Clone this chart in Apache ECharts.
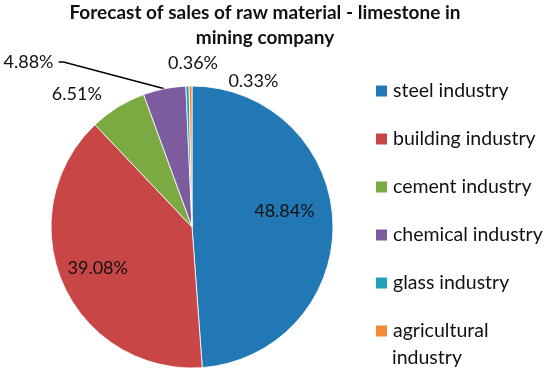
<!DOCTYPE html>
<html>
<head>
<meta charset="utf-8">
<script src="https://cdn.jsdelivr.net/npm/echarts@6/dist/echarts.min.js"></script>
<style>
html,body{margin:0;padding:0;background:#fff;}
#chart{width:550px;height:373px;}
</style>
</head>
<body>
<div id="chart"></div>
<script>
const titleLines = ['Forecast of sales of raw material - limestone in', 'mining company'];
const categories = ['steel industry', 'building industry', 'cement industry', 'chemical industry', 'glass industry', 'agricultural industry'];
const shares = [48.84, 39.08, 6.51, 4.88, 0.36, 0.33];
const colors = ['#2278B5', '#C84646', '#7BAA43', '#7C5B9E', '#22A0B8', '#F58A34'];
const insideLabels = [true, true, false, false, false, false];
const leaderLines = [false, false, false, true, false, false];
// legend label wrapping: first line shown beside the marker, continuation below
const legendFirstLine = {'agricultural industry': 'agricultural'};
const legendContinuation = 'industry';
// label nudges (layout only)
const labelShift = [[19, -13], [-27, 11], [12, 0], [-88, -12], [51, -8], [108, 10]];

const chart = echarts.init(document.getElementById('chart'), null, {renderer: 'canvas'});
const FONT = 'Lato, "Open Sans", sans-serif';
const LEG_FONT = 19.5;

const data = categories.map((name, i) => ({
  name: name,
  value: shares[i],
  itemStyle: {color: colors[i]},
  label: {position: insideLabels[i] ? 'inside' : 'outside'},
  labelLine: {show: leaderLines[i]}
}));

chart.setOption({
  animation: false,
  backgroundColor: '#fff',
  title: {
    text: titleLines.join('\n'),
    left: 265,
    top: 0,
    padding: 0,
    textAlign: 'center',
    textStyle: {fontFamily: FONT, fontWeight: 'bold', fontSize: 19, lineHeight: 25, color: '#111'}
  },
  legend: {
    orient: 'vertical',
    left: 369,
    top: 73,
    itemWidth: 13,
    itemHeight: 13,
    itemGap: 22,
    icon: 'rect',
    data: categories,
    formatter: n => legendFirstLine[n] || n,
    textStyle: {fontFamily: FONT, fontSize: LEG_FONT, lineHeight: 26, color: '#111'}
  },
  graphic: [{
    type: 'text',
    x: 392,
    y: 358,
    silent: true,
    style: {
      text: legendContinuation,
      font: LEG_FONT + 'px ' + FONT,
      fill: '#111',
      verticalAlign: 'middle',
      align: 'left'
    }
  }],
  series: [{
    type: 'pie',
    center: [192, 227],
    radius: 141,
    startAngle: 90,
    clockwise: true,
    avoidLabelOverlap: false,
    itemStyle: {borderColor: '#fff', borderWidth: 0.8},
    label: {
      fontFamily: FONT,
      fontSize: 18,
      color: '#111',
      formatter: p => p.value.toFixed(2) + '%'
    },
    labelLine: {length: 15, length2: 15, lineStyle: {color: '#000', width: 1.5}},
    emphasis: {disabled: true},
    labelLayout: function (params) {
      const i = params.dataIndex;
      const dx = labelShift[i][0], dy = labelShift[i][1];
      const out = {dx: dx, dy: dy};
      if (leaderLines[i] && params.labelLinePoints) {
        const r = params.labelRect;
        const R = r.x + r.width + dx;
        const M = r.y + r.height / 2 + dy;
        out.labelLinePoints = [params.labelLinePoints[0], [R + 10, M], [R + 5, M]];
      }
      return out;
    },
    data: data
  }]
});
</script>
</body>
</html>
